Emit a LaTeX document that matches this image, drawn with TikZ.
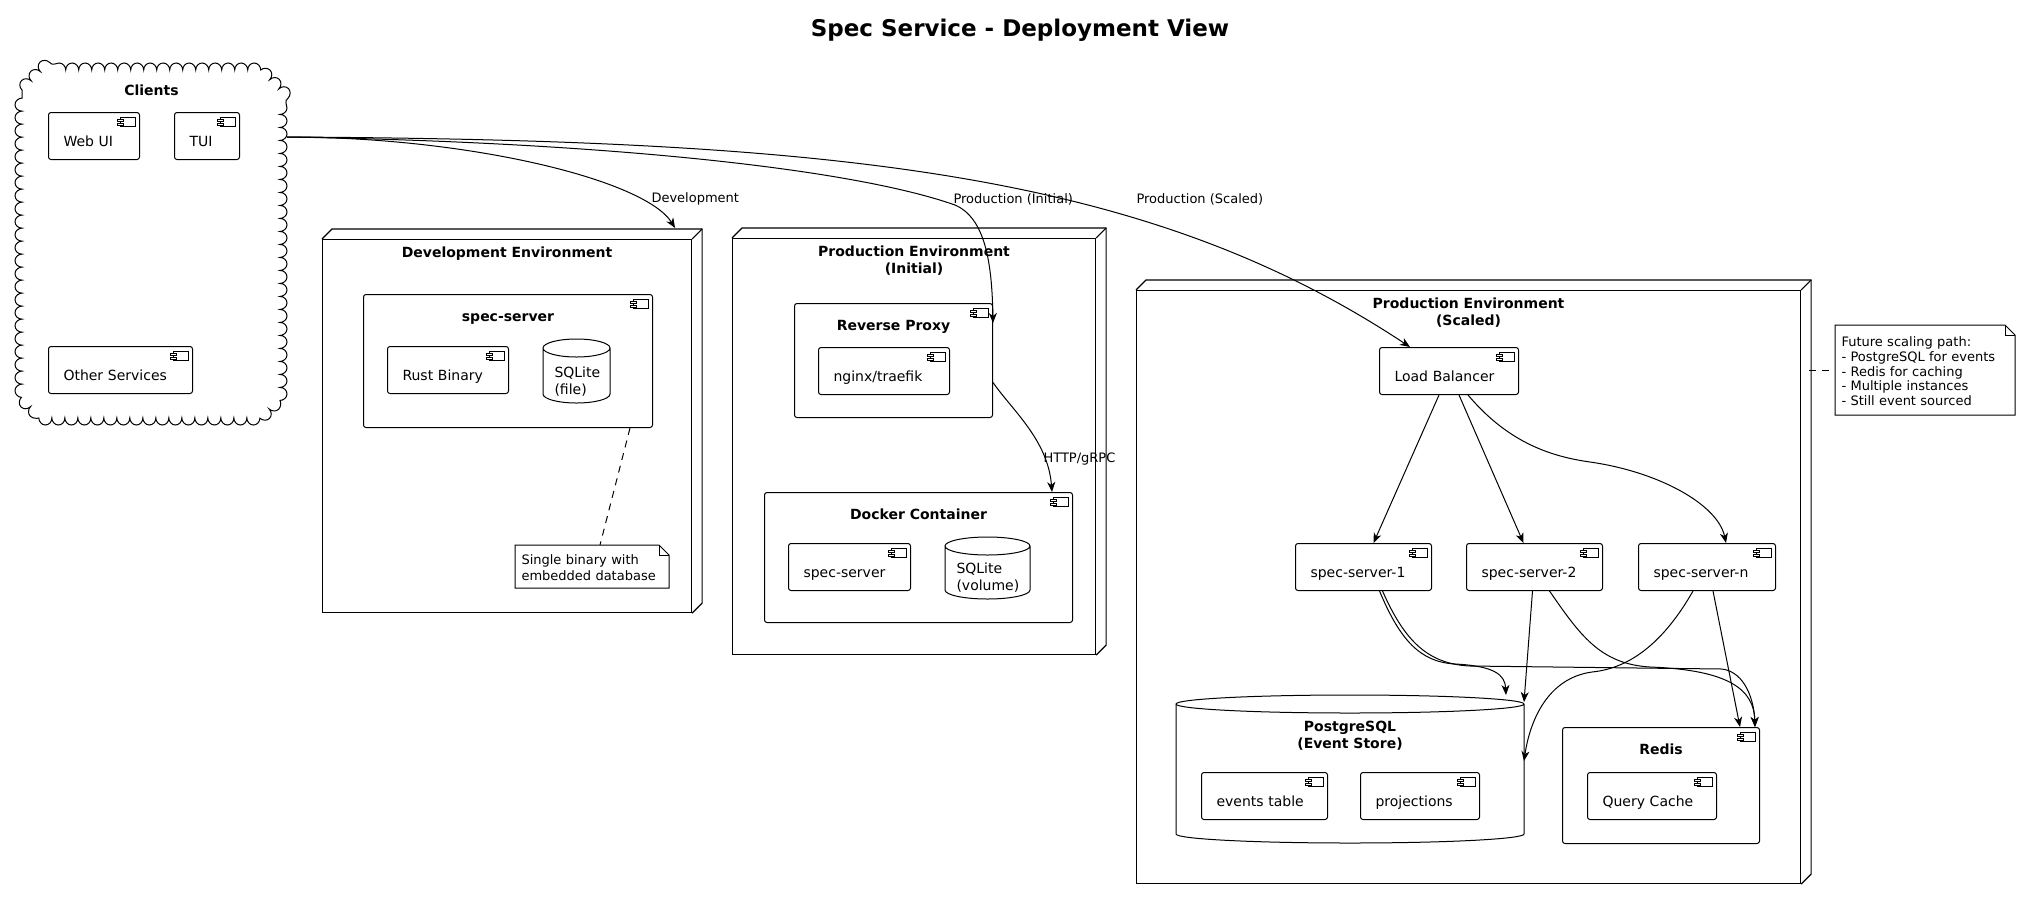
\documentclass[tikz,border=0pt]{standalone}
\usepackage{fontspec}
\setmainfont{DejaVu Sans}
\usetikzlibrary{arrows.meta,calc,decorations.pathmorphing}

% small component glyph in the top right corner
\newcommand\compicon[1]{%
  \draw[icon] ([xshift=-20pt,yshift=-5pt]#1.north east) rectangle ++(15,9.5);
  \draw[icon,fill=white] ([xshift=-23pt,yshift=-7.5pt]#1.north east) rectangle ++(6,2.2);
  \draw[icon,fill=white] ([xshift=-23pt,yshift=-11pt]#1.north east) rectangle ++(6,2.2);}
% 3d sides of a deployment node
\newcommand\envdepth[1]{%
  \draw[line width=1.1pt] (#1.north west) -- ++(10,-10) -| ([shift={(10pt,10pt)}]#1.south east) -- (#1.south east);
  \draw[line width=1.1pt] (#1.north east) -- ++(10,-10);}
% database drum
\newcommand\dbshape[1]{%
  \draw let \p1=(#1.north west), \p2=(#1.south east), \n1={(\x2-\x1)/2} in
    (\x1,\y1-9pt) -- (\x1,\y2+9pt) arc[start angle=180,end angle=360,x radius=\n1,y radius=9pt] -- (\x2,\y1-9pt)
    (\x1+\n1,\y1-9pt) ellipse[x radius=\n1,y radius=9pt];}
% note with dog ear
\newcommand\notefold[1]{%
  \draw (#1.north west) -- ([xshift=-10pt]#1.north east) -- ([yshift=-10pt]#1.north east) -- (#1.south east) -- (#1.south west) -- cycle;
  \draw ([xshift=-10pt]#1.north east) |- ([yshift=-10pt]#1.north east);}

\begin{document}
\fontsize{14}{17}\selectfont
\begin{tikzpicture}[x=1pt,y=-1pt,line width=1pt,
    icon/.style={line width=0.8pt},
    comp/.style={draw,rounded corners=2.5pt,anchor=north west,inner xsep=15pt,inner ysep=0pt,
      text width=#1,align=left,text height=34pt,text depth=13pt},
    cont/.style={draw,rounded corners=2.5pt,anchor=north west,inner sep=0pt,font=\bfseries,
      text height=27pt,text depth=#1},
    envbox/.style={draw,line width=1.1pt,anchor=north west,inner sep=0pt,font=\bfseries,align=center,
      text height=18pt,text depth=#1},
    db/.style={anchor=north west,inner xsep=11pt,inner ysep=0pt,align=left,text width=#1},
    note/.style={anchor=north west,inner xsep=6pt,inner ysep=0pt,align=left,
      font=\fontsize{13}{15.5}\selectfont,text width=#1},
    link/.style={-{Stealth[length=10pt,width=8pt,inset=3pt]}},
    notelink/.style={dash pattern=on 7pt off 6pt},
    lbl/.style={anchor=west,inner sep=0pt,font=\fontsize{13}{15}\selectfont}]
  \useasboundingbox (0,0) rectangle (2018,898);

  \node[font=\bfseries\fontsize{23}{27}\selectfont] (title) at (1020,30) {Spec Service - Deployment View};

  % clients
  \draw[decorate,decoration={bumps,segment length=26pt,amplitude=7pt}]
    (22,90) -- (42,70) -- (260,70) -- (280,90) -- (280,398) -- (260,418) -- (42,418) -- (22,398) -- cycle;
  \node[anchor=north west,inner sep=0pt,minimum width=258pt,font=\bfseries,text height=25pt,text depth=323pt] (clients) at (22,70) {Clients};
  \node[comp=61pt] (webui) at (48,112) {Web UI};
  \node[comp=35pt] (tui) at (174,112) {TUI};
  \node[comp=114pt] (other) at (48,346) {Other Services};
  \coordinate (cl) at ([shift={(6pt,-67pt)}]clients.north east);

  % development
  \node[envbox=355pt,minimum width=369pt] (dev) at (322,239) {Development Environment};
  \node[cont=106pt,minimum width=289pt] (specdev) at (363,294) {spec-server};
  \node[comp=91pt] (rust) at (387,346) {Rust Binary};
  \node[db=44pt,text height=38pt,text depth=25pt] (sqlfile) at (543,339) {SQLite\\(file)};
  \node[note=141pt,text height=19pt,text depth=23pt] (devnote) at (515,545) {Single binary with\\embedded database};

  % production, initial
  \node[envbox=381pt,text height=35pt,minimum width=363pt] (init) at (732,238) {Production Environment\\(Initial)};
  \node[cont=87pt,minimum width=198pt] (rp) at (794,303) {Reverse Proxy};
  \node[comp=101pt] (nginx) at (818,347) {nginx/traefik};
  \node[cont=103pt,minimum width=308pt] (docker) at (764,492) {Docker Container};
  \node[comp=92pt] (specsrv) at (788,543) {spec-server};
  \node[db=62pt,text height=36pt,text depth=25pt] (sqlvol) at (945,537) {SQLite\\(volume)};

  % production, scaled
  \node[envbox=558pt,text height=35pt,minimum width=664pt] (scaled) at (1136,290) {Production Environment\\(Scaled)};
  \node[comp=109pt] (lb) at (1379,347) {Load Balancer};
  \node[comp=106pt] (ss1) at (1295,543) {spec-server-1};
  \node[comp=106pt] (ss2) at (1466,543) {spec-server-2};
  \node[comp=107pt] (ssn) at (1638,543) {spec-server-n};
  \node[anchor=north west,inner sep=0pt,minimum width=347pt,font=\bfseries,align=center,
    text height=53pt,text depth=94pt] (pg) at (1176,695) {PostgreSQL\\(Event Store)};
  \node[comp=96pt] (events) at (1201,772) {events table};
  \node[comp=89pt] (proj) at (1360,772) {projections};
  \node[cont=89pt,minimum width=197pt] (redis) at (1562,727) {Redis};
  \node[comp=99pt] (qcache) at (1587,772) {Query Cache};
  \node[note=167pt,text height=21pt,text depth=68pt,font=\fontsize{13}{14.8}\selectfont] (scalenote) at (1835,325)
    {Future scaling path:\\- PostgreSQL for events\\- Redis for caching\\- Multiple instances\\- Still event sourced};

  \foreach \nm in {webui,tui,other,specdev,rust,rp,nginx,docker,specsrv,lb,ss1,ss2,ssn,events,proj,redis,qcache}
    \compicon{\nm};
  \foreach \nm in {dev,init,scaled} \envdepth{\nm};
  \foreach \nm in {sqlfile,sqlvol,pg} \dbshape{\nm};
  \foreach \nm in {devnote,scalenote} \notefold{\nm};

  % client links
  \draw[link] (cl) .. controls (470,137) and (645,180) .. ([xshift=-17pt,yshift=11pt]dev.north east);
  \node[lbl] (devlbl) at (651,199) {Development};
  \draw[link] (cl) .. controls (600,142) and (850,168) .. (955,205) .. controls (985,218) and (992,262) .. ([yshift=-20pt]rp.north east);
  \node[lbl] (initlbl) at (953,199) {Production (Initial)};
  \draw[link] (cl) .. controls (850,140) and (1150,175) .. ([xshift=31pt]lb.north west);
  \node[lbl] (scaledlbl) at (1136,199) {Production (Scaled)};

  \draw[link] ([yshift=-22pt]rp.east) .. controls (1012,410) and (1048,440) .. ([xshift=-21pt]docker.north east);
  \node[lbl] (httplbl) at (1043,459) {HTTP/gRPC};

  % balancer
  \draw[link] ([xshift=-10pt]lb.south) -- ([xshift=10pt]ss1.north);
  \draw[link] ([xshift=10pt]lb.south) -- ([xshift=-11pt]ss2.north);
  \draw[link] ([xshift=19pt]lb.south) .. controls (1510,445) and (1555,457) .. (1590,462) .. controls (1660,472) and (1718,505) .. ([xshift=19pt]ssn.north);

  % storage
  \draw[link] ([xshift=16pt]ss1.south) .. controls (1400,640) and (1420,662) .. (1455,664) .. controls (1495,666) and (1505,675) .. ([xshift=-18pt]pg.north east);
  \draw[link] ([xshift=19pt]ss1.south) .. controls (1403,637) and (1425,664) .. (1470,666) -- (1722,669) .. controls (1745,672) and (1754,700) .. ([xshift=-5pt]redis.north east);
  \draw[link] ([xshift=-2pt]ss2.south) -- ([yshift=-7pt]pg.north east);
  \draw[link] ([xshift=15pt]ss2.south) .. controls (1580,635) and (1600,664) .. (1650,667) .. controls (1730,670) and (1754,690) .. ([xshift=-5pt]redis.north east);
  \draw[link] ([xshift=-14pt]ssn.south) .. controls (1665,640) and (1632,668) .. (1592,672) .. controls (1548,678) and (1530,720) .. ([yshift=8pt]pg.east);
  \draw[link] ([xshift=6pt]ssn.south) -- ([xshift=-20pt]redis.north east);

  % notes
  \draw[notelink] ([xshift=-23pt]specdev.south east) -- ([xshift=8pt]devnote.north);
  \draw[notelink] ([xshift=8pt]scaled.east |- scalenote.west) -- (scalenote.west);
\end{tikzpicture}
\end{document}
